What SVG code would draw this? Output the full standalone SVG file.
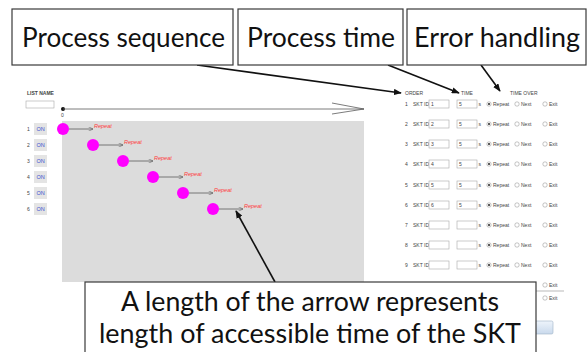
<svg xmlns="http://www.w3.org/2000/svg" width="588" height="352" viewBox="0 0 588 352">
<style>
.box{fill:#fff;stroke:#3a3a3a;stroke-width:1.2}
.big{font-family:Lato,"Open Sans",sans-serif;font-size:27px;fill:#111}
.sm{font-family:"Liberation Sans",Arial,sans-serif;font-size:5px;fill:#444}
.rep{font-family:"Liberation Sans",Arial,sans-serif;font-size:5.5px;font-style:italic;fill:#ff3b3b}
.on{font-family:"Liberation Sans",Arial,sans-serif;font-size:5.5px;fill:#3a4fd0}
.onb{fill:#e4e4e4}
.inp{fill:#fff;stroke:#a8a8a8;stroke-width:0.6}
.rad{fill:#fff;stroke:#8a8a8a;stroke-width:0.5}
.dot{fill:#333}
.mag{fill:#ff00ff}
.tl{stroke:#5a5a5a;stroke-width:0.8;fill:none}
.call{stroke:#111;stroke-width:1.6;fill:none}
</style>
<defs>
<marker id="ah" viewBox="0 0 10 8" refX="9" refY="4" markerWidth="5" markerHeight="4" orient="auto" markerUnits="strokeWidth">
<path d="M0,0 L10,4 L0,8 z" fill="#111"/>
</marker>
<marker id="oh" viewBox="0 0 10 10" refX="10" refY="5" markerWidth="6" markerHeight="6" orient="auto" markerUnits="strokeWidth">
<path d="M0,0 L10,5 L0,10" fill="none" stroke="#5a5a5a" stroke-width="1.2"/>
</marker>
<linearGradient id="btn" x1="0" y1="0" x2="0" y2="1">
<stop offset="0" stop-color="#eef4fb"/>
<stop offset="1" stop-color="#c9d9ec"/>
</linearGradient>
</defs>

<g id="left-panel">
<text class="sm" x="27" y="95" font-weight="bold">LIST NAME</text>
<rect class="inp" x="26" y="101" width="28" height="7"/>
<rect x="62" y="121" width="302" height="161" fill="#dcdcdc"/>
<circle cx="63" cy="109" r="2" fill="#111"/>
<line class="tl" x1="63" y1="109" x2="364" y2="109"/>
<polyline class="tl" points="332,103 364,109 332,114"/>
<text class="sm" x="61" y="117">0</text>
</g>

<g id="rows-left">
<g id="row1"><text class="sm" x="27" y="131">1</text><rect class="onb" x="34" y="123" width="13" height="12"/><text class="on" x="40.5" y="131" text-anchor="middle">ON</text><circle class="mag" cx="63" cy="129" r="6"/><line class="tl" x1="69" y1="129" x2="93" y2="129" marker-end="url(#oh)"/><text class="rep" x="94" y="128">Repeat</text></g>
<g id="row2"><text class="sm" x="27" y="147">2</text><rect class="onb" x="34" y="139" width="13" height="12"/><text class="on" x="40.5" y="147" text-anchor="middle">ON</text><circle class="mag" cx="93" cy="145" r="6"/><line class="tl" x1="99" y1="145" x2="123" y2="145" marker-end="url(#oh)"/><text class="rep" x="124" y="144">Repeat</text></g>
<g id="row3"><text class="sm" x="27" y="163">3</text><rect class="onb" x="34" y="155" width="13" height="12"/><text class="on" x="40.5" y="163" text-anchor="middle">ON</text><circle class="mag" cx="123" cy="161" r="6"/><line class="tl" x1="129" y1="161" x2="153" y2="161" marker-end="url(#oh)"/><text class="rep" x="154" y="160">Repeat</text></g>
<g id="row4"><text class="sm" x="27" y="179">4</text><rect class="onb" x="34" y="171" width="13" height="12"/><text class="on" x="40.5" y="179" text-anchor="middle">ON</text><circle class="mag" cx="153" cy="177" r="6"/><line class="tl" x1="159" y1="177" x2="183" y2="177" marker-end="url(#oh)"/><text class="rep" x="184" y="176">Repeat</text></g>
<g id="row5"><text class="sm" x="27" y="195">5</text><rect class="onb" x="34" y="187" width="13" height="12"/><text class="on" x="40.5" y="195" text-anchor="middle">ON</text><circle class="mag" cx="183" cy="193" r="6"/><line class="tl" x1="189" y1="193" x2="213" y2="193" marker-end="url(#oh)"/><text class="rep" x="214" y="192">Repeat</text></g>
<g id="row6"><text class="sm" x="27" y="211">6</text><rect class="onb" x="34" y="203" width="13" height="12"/><text class="on" x="40.5" y="211" text-anchor="middle">ON</text><circle class="mag" cx="213" cy="209" r="6"/><line class="tl" x1="219" y1="209" x2="243" y2="209" marker-end="url(#oh)"/><text class="rep" x="244" y="208">Repeat</text></g>
</g>

<g id="right-panel">
<text class="sm" x="405" y="95">ORDER</text>
<text class="sm" x="461" y="95">TIME</text>
<text class="sm" x="510" y="95">TIME OVER</text>
<g id="r1"><text class="sm" x="405" y="106">1</text><text class="sm" x="413" y="106">SKT ID</text><rect class="inp" x="429" y="100" width="20" height="8"/><text class="sm" x="431" y="106">1</text><rect class="inp" x="457" y="100" width="20" height="8"/><text class="sm" x="459" y="106">5</text><text class="sm" x="478.5" y="106">s</text><circle class="rad" cx="489" cy="104" r="2.2"/><circle class="dot" cx="489" cy="104" r="1.1"/><text class="sm" x="493" y="106">Repeat</text><circle class="rad" cx="517" cy="104" r="2.2"/><text class="sm" x="521" y="106">Next</text><circle class="rad" cx="545" cy="104" r="2.2"/><text class="sm" x="549" y="106">Exit</text></g>
<g id="r2"><text class="sm" x="405" y="126">2</text><text class="sm" x="413" y="126">SKT ID</text><rect class="inp" x="429" y="120" width="20" height="8"/><text class="sm" x="431" y="126">2</text><rect class="inp" x="457" y="120" width="20" height="8"/><text class="sm" x="459" y="126">5</text><text class="sm" x="478.5" y="126">s</text><circle class="rad" cx="489" cy="124" r="2.2"/><circle class="dot" cx="489" cy="124" r="1.1"/><text class="sm" x="493" y="126">Repeat</text><circle class="rad" cx="517" cy="124" r="2.2"/><text class="sm" x="521" y="126">Next</text><circle class="rad" cx="545" cy="124" r="2.2"/><text class="sm" x="549" y="126">Exit</text></g>
<g id="r3"><text class="sm" x="405" y="146">3</text><text class="sm" x="413" y="146">SKT ID</text><rect class="inp" x="429" y="140" width="20" height="8"/><text class="sm" x="431" y="146">3</text><rect class="inp" x="457" y="140" width="20" height="8"/><text class="sm" x="459" y="146">5</text><text class="sm" x="478.5" y="146">s</text><circle class="rad" cx="489" cy="144" r="2.2"/><circle class="dot" cx="489" cy="144" r="1.1"/><text class="sm" x="493" y="146">Repeat</text><circle class="rad" cx="517" cy="144" r="2.2"/><text class="sm" x="521" y="146">Next</text><circle class="rad" cx="545" cy="144" r="2.2"/><text class="sm" x="549" y="146">Exit</text></g>
<g id="r4"><text class="sm" x="405" y="166">4</text><text class="sm" x="413" y="166">SKT ID</text><rect class="inp" x="429" y="160" width="20" height="8"/><text class="sm" x="431" y="166">4</text><rect class="inp" x="457" y="160" width="20" height="8"/><text class="sm" x="459" y="166">5</text><text class="sm" x="478.5" y="166">s</text><circle class="rad" cx="489" cy="164" r="2.2"/><circle class="dot" cx="489" cy="164" r="1.1"/><text class="sm" x="493" y="166">Repeat</text><circle class="rad" cx="517" cy="164" r="2.2"/><text class="sm" x="521" y="166">Next</text><circle class="rad" cx="545" cy="164" r="2.2"/><text class="sm" x="549" y="166">Exit</text></g>
<g id="r5"><text class="sm" x="405" y="187">5</text><text class="sm" x="413" y="187">SKT ID</text><rect class="inp" x="429" y="181" width="20" height="8"/><text class="sm" x="431" y="187">5</text><rect class="inp" x="457" y="181" width="20" height="8"/><text class="sm" x="459" y="187">5</text><text class="sm" x="478.5" y="187">s</text><circle class="rad" cx="489" cy="185" r="2.2"/><circle class="dot" cx="489" cy="185" r="1.1"/><text class="sm" x="493" y="187">Repeat</text><circle class="rad" cx="517" cy="185" r="2.2"/><text class="sm" x="521" y="187">Next</text><circle class="rad" cx="545" cy="185" r="2.2"/><text class="sm" x="549" y="187">Exit</text></g>
<g id="r6"><text class="sm" x="405" y="207">6</text><text class="sm" x="413" y="207">SKT ID</text><rect class="inp" x="429" y="201" width="20" height="8"/><text class="sm" x="431" y="207">6</text><rect class="inp" x="457" y="201" width="20" height="8"/><text class="sm" x="459" y="207">5</text><text class="sm" x="478.5" y="207">s</text><circle class="rad" cx="489" cy="205" r="2.2"/><circle class="dot" cx="489" cy="205" r="1.1"/><text class="sm" x="493" y="207">Repeat</text><circle class="rad" cx="517" cy="205" r="2.2"/><text class="sm" x="521" y="207">Next</text><circle class="rad" cx="545" cy="205" r="2.2"/><text class="sm" x="549" y="207">Exit</text></g>
<g id="r7"><text class="sm" x="405" y="227">7</text><text class="sm" x="413" y="227">SKT ID</text><rect class="inp" x="429" y="221" width="20" height="8"/><rect class="inp" x="457" y="221" width="20" height="8"/><text class="sm" x="478.5" y="227">s</text><circle class="rad" cx="489" cy="225" r="2.2"/><circle class="dot" cx="489" cy="225" r="1.1"/><text class="sm" x="493" y="227">Repeat</text><circle class="rad" cx="517" cy="225" r="2.2"/><text class="sm" x="521" y="227">Next</text><circle class="rad" cx="545" cy="225" r="2.2"/><text class="sm" x="549" y="227">Exit</text></g>
<g id="r8"><text class="sm" x="405" y="247">8</text><text class="sm" x="413" y="247">SKT ID</text><rect class="inp" x="429" y="241" width="20" height="8"/><rect class="inp" x="457" y="241" width="20" height="8"/><text class="sm" x="478.5" y="247">s</text><circle class="rad" cx="489" cy="245" r="2.2"/><circle class="dot" cx="489" cy="245" r="1.1"/><text class="sm" x="493" y="247">Repeat</text><circle class="rad" cx="517" cy="245" r="2.2"/><text class="sm" x="521" y="247">Next</text><circle class="rad" cx="545" cy="245" r="2.2"/><text class="sm" x="549" y="247">Exit</text></g>
<g id="r9"><text class="sm" x="405" y="267">9</text><text class="sm" x="413" y="267">SKT ID</text><rect class="inp" x="429" y="261" width="20" height="8"/><rect class="inp" x="457" y="261" width="20" height="8"/><text class="sm" x="478.5" y="267">s</text><circle class="rad" cx="489" cy="265" r="2.2"/><circle class="dot" cx="489" cy="265" r="1.1"/><text class="sm" x="493" y="267">Repeat</text><circle class="rad" cx="517" cy="265" r="2.2"/><text class="sm" x="521" y="267">Next</text><circle class="rad" cx="545" cy="265" r="2.2"/><text class="sm" x="549" y="267">Exit</text></g>
<circle class="rad" cx="545" cy="285" r="2.2"/><text class="sm" x="549" y="287">Exit</text>
<line x1="520" y1="291" x2="564" y2="291" stroke="#8a8a8a" stroke-width="0.6"/>
<circle class="rad" cx="545" cy="298" r="2.2"/><text class="sm" x="549" y="300">Exit</text>
<rect x="500" y="321" width="53" height="13" rx="1.5" fill="url(#btn)" stroke="#9fb3c8" stroke-width="0.6"/>
</g>

<g id="connectors">
<line class="call" x1="197" y1="65" x2="401" y2="93" marker-end="url(#ah)"/>
<line class="call" x1="388" y1="65" x2="459" y2="93" marker-end="url(#ah)"/>
<line class="call" x1="481" y1="65" x2="500" y2="91" marker-end="url(#ah)"/>
<line class="call" x1="275" y1="282" x2="236" y2="211" marker-end="url(#ah)"/>
</g>

<g id="callout-sequence"><rect class="box" x="12" y="9" width="221" height="56"/><text class="big" x="22" y="47" textLength="203" lengthAdjust="spacingAndGlyphs">Process sequence</text></g>
<g id="callout-time"><rect class="box" x="238" y="9" width="165" height="56"/><text class="big" x="247" y="47" textLength="148" lengthAdjust="spacingAndGlyphs">Process time</text></g>
<g id="callout-error"><rect class="box" x="407" y="9" width="179" height="56"/><text class="big" x="414" y="47" textLength="166" lengthAdjust="spacingAndGlyphs">Error handling</text></g>
<g id="callout-length"><rect class="box" x="85" y="282" width="451" height="80"/>
<text class="big" x="310" y="311" text-anchor="middle" textLength="378" lengthAdjust="spacingAndGlyphs">A length of the arrow represents</text>
<text class="big" x="310" y="343" text-anchor="middle" textLength="422" lengthAdjust="spacingAndGlyphs">length of accessible time of the SKT</text></g>
</svg>
